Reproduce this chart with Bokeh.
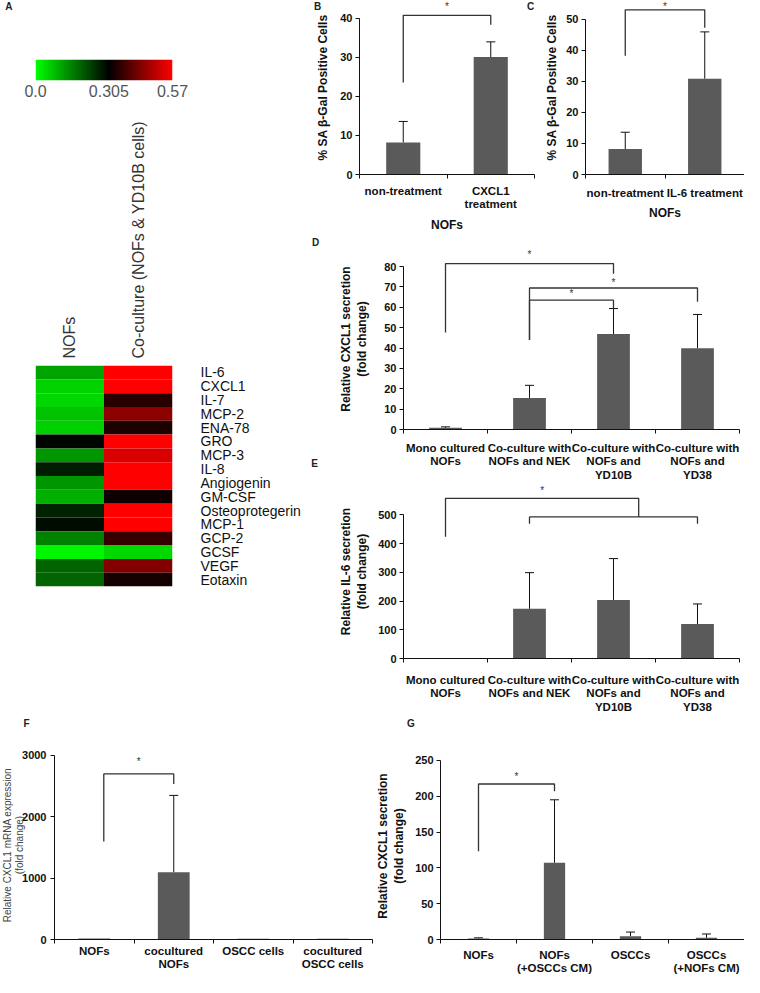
import numpy as np
from math import pi
from bokeh.plotting import figure
from bokeh.layouts import row, column
from bokeh.models import (ColumnDataSource, FixedTicker, LinearColorMapper, Whisker,
                          TeeHead, FactorRange, Range1d)
from bokeh.transform import transform
from bokeh.core.properties import value
from bokeh.embed import file_html
from bokeh.resources import INLINE

# ---------------- data ----------------
# Panel A: cytokine array heat map
cytokines = ["IL-6", "CXCL1", "IL-7", "MCP-2", "ENA-78", "GRO", "MCP-3", "IL-8",
             "Angiogenin", "GM-CSF", "Osteoprotegerin", "MCP-1", "GCP-2", "GCSF",
             "VEGF", "Eotaxin"]
heat_columns = ["NOFs", "Co-culture (NOFs & YD10B cells)"]
nofs_level = [0.110, 0.054, 0.050, 0.072, 0.056, 0.300, 0.126, 0.270,
              0.126, 0.096, 0.263, 0.290, 0.150, 0.012, 0.185, 0.185]
coculture_level = [0.570, 0.570, 0.347, 0.450, 0.336, 0.570, 0.528, 0.570,
                   0.570, 0.320, 0.570, 0.570, 0.362, 0.048, 0.440, 0.326]
scale_ticks = [0.0, 0.305, 0.57]
scale_labels = ["0.0", "0.305", "0.57"]

# Panel B
b_groups = ["non-treatment", "CXCL1\ntreatment"]
b_mean = [8.2, 30.1]
b_sd = [5.4, 3.9]
b_yticks = [0, 10, 20, 30, 40]
b_brackets = [(0, 1, 40.8, 23.6, 38.4)]   # (left group, right group, top, left foot, right foot)
b_stars = [43.0]

# Panel C
c_groups = ["non-treatment", "IL-6 treatment"]
c_mean = [8.2, 30.8]
c_sd = [5.4, 15.1]
c_yticks = [0, 10, 20, 30, 40, 50]
c_brackets = [(0, 1, 53.0, 38.2, 47.2)]
c_stars = [54.2]

# Panels D and E
de_groups = ["Mono cultured\nNOFs", "Co-culture with\nNOFs and NEK",
             "Co-culture with\nNOFs and\nYD10B", "Co-culture with\nNOFs and\nYD38"]
d_mean = [0.8, 15.5, 46.9, 39.9]
d_sd = [0.5, 6.2, 12.5, 16.6]
d_yticks = [0, 10, 20, 30, 40, 50, 60, 70, 80]
d_brackets = [(0, 2, 81.5, 47.6, 76.5), (1, 3, 69.5, 44.0, 62.7), (1, 2, 63.5, 44.0, 59.4)]
d_stars = [86.0, 72.0, 66.6]

e_mean = [0, 173, 204, 120]
e_sd = [0, 126, 144, 70]
e_yticks = [0, 100, 200, 300, 400, 500]
e_brackets = [(0, 2.3, 558, 424, 493), (1, 3, 493, 469, 469)]
e_stars = [586, None]

# Panel F
f_groups = ["NOFs", "cocultured\nNOFs", "OSCC cells", "cocultured\nOSCC cells"]
f_mean = [15, 1095, 12, 12]
f_sd = [0, 1254, 0, 0]
f_yticks = [0, 1000, 2000, 3000]
f_brackets = [(0.12, 1, 2698, 1598, 2534)]
f_stars = [2898]

# Panel G
g_groups = ["NOFs", "NOFs\n(+OSCCs CM)", "OSCCs", "OSCCs\n(+NOFs CM)"]
g_mean = [1.5, 107, 4.5, 2.3]
g_sd = [0.8, 88, 5.9, 5.4]
g_yticks = [0, 50, 100, 150, 200, 250]
g_brackets = [(0, 1, 217, 123, 207)]
g_stars = [227]

# ---------------- style ----------------
FONT = "Liberation Sans"
INK = "#111111"
BAR = "#5a5a5a"


def tick_key(t):
    return int(t) if float(t).is_integer() else t


def base_fig(box, frame, **kw):
    bx0, by0, bx1, by1 = box
    fl, ft, fr, fb = frame
    p = figure(width=bx1 - bx0, height=by1 - by0,
               min_border_left=fl - bx0, min_border_right=bx1 - fr,
               min_border_top=ft - by0, min_border_bottom=by1 - fb,
               toolbar_location=None, output_backend="svg",
               outline_line_color=None, background_fill_color="white",
               border_fill_color="white", **kw)
    p.grid.visible = False
    p._frame = frame
    return p


def free_text(p, text, rx, ry, size="11px", bold=True, color="#222222", angle=0.0):
    """Text placed at a page position (reference pixels), drawn above the frame clip."""
    fl, ft, fr, fb = p._frame
    xr, yr = p.x_range, p.y_range
    x = xr.start + (rx - fl) / (fr - fl) * (xr.end - xr.start)
    y = yr.start + (fb - ry) / (fb - ft) * (yr.end - yr.start)
    p.text(x=[x], y=[y], text=[text], angle=angle, text_align="center",
           text_baseline="middle", text_font=value(FONT), text_font_size=size,
           text_font_style="bold" if bold else "normal", text_color=color,
           text_line_height=1.15, level="overlay")


def bar_panel(box, frame, y_end, groups, mean, sd, yticks, ytitle, bar_width,
              xlab_standoff, ylab_standoff, ytitle_standoff, brackets, stars,
              xtitle=None, xtitle_standoff=4):
    n = len(groups)
    p = base_fig(box, frame, x_range=Range1d(0, n), y_range=Range1d(0, y_end))
    xs = [i + 0.5 for i in range(n)]
    src = ColumnDataSource(dict(x=xs, top=mean))
    p.vbar(x="x", top="top", width=bar_width, source=src, fill_color=BAR, line_color=None)

    ex = [x for x, s in zip(xs, sd) if s > 0]
    elo = [m for m, s in zip(mean, sd) if s > 0]
    ehi = [m + s for m, s in zip(mean, sd) if s > 0]
    esrc = ColumnDataSource(dict(x=ex, lower=elo, upper=ehi))
    p.add_layout(Whisker(base="x", lower="lower", upper="upper", source=esrc,
                         line_color=INK, line_width=1, lower_head=None,
                         upper_head=TeeHead(size=9, line_color=INK, line_width=1)))

    bxs, bys, sxs, sys_ = [], [], [], []
    for (l, r, top, lf, rf), st in zip(brackets, stars):
        bxs.append([l + 0.5, l + 0.5, r + 0.5, r + 0.5])
        bys.append([lf, top, top, rf])
        if st is not None:
            sxs.append((l + r) / 2 + 0.5)
            sys_.append(st)
    p.multi_line(xs=bxs, ys=bys, line_color="#333333", line_width=1.3)
    p.text(x=sxs, y=sys_, text=["*"] * len(sxs), text_align="center",
           text_baseline="middle", text_font=value(FONT), text_font_size="10px",
           text_color="#333333", level="overlay")

    xa = p.xaxis[0]
    xa.ticker = FixedTicker(ticks=xs, minor_ticks=list(range(n + 1)))
    xa.major_label_overrides = {tick_key(x): g for x, g in zip(xs, groups)}
    xa.major_tick_out = 0
    xa.major_tick_in = 0
    xa.major_tick_line_color = None
    xa.minor_tick_out = 4
    xa.minor_tick_in = 0
    xa.minor_tick_line_color = INK
    xa.axis_line_color = INK
    xa.major_label_text_font = FONT
    xa.major_label_text_font_size = "11.5px"
    xa.major_label_text_font_style = "bold"
    xa.major_label_text_color = INK
    xa.major_label_text_line_height = 1.15
    xa.major_label_standoff = xlab_standoff
    if xtitle:
        xa.axis_label = xtitle
        xa.axis_label_text_font = FONT
        xa.axis_label_text_font_size = "12px"
        xa.axis_label_text_font_style = "bold"
        xa.axis_label_text_color = INK
        xa.axis_label_standoff = xtitle_standoff

    ya = p.yaxis[0]
    ya.ticker = FixedTicker(ticks=yticks, minor_ticks=[])
    ya.bounds = (0, yticks[-1])
    ya.major_tick_out = 4
    ya.major_tick_in = 0
    ya.major_tick_line_color = INK
    ya.minor_tick_line_color = None
    ya.axis_line_color = INK
    ya.major_label_text_font = FONT
    ya.major_label_text_font_size = "11px"
    ya.major_label_text_font_style = "bold"
    ya.major_label_text_color = INK
    ya.major_label_standoff = ylab_standoff
    if ytitle:
        ya.axis_label = ytitle
        ya.axis_label_text_font = FONT
        ya.axis_label_text_font_size = "12px"
        ya.axis_label_text_font_style = "bold"
        ya.axis_label_text_color = INK
        ya.axis_label_text_line_height = 1.15
        ya.axis_label_standoff = ytitle_standoff
    return p


# ---------------- panel A ----------------
palette = []
for t in np.linspace(scale_ticks[0], scale_ticks[-1], 256):
    if t <= scale_ticks[1]:
        gch = int(round(255 * (1 - (t - scale_ticks[0]) / (scale_ticks[1] - scale_ticks[0]))))
        palette.append("#00%02x00" % gch)
    else:
        rch = int(round(255 * (t - scale_ticks[1]) / (scale_ticks[2] - scale_ticks[1])))
        palette.append("#%02x0000" % rch)
mapper = LinearColorMapper(palette=palette, low=scale_ticks[0], high=scale_ticks[-1])

pc = base_fig((8, 8, 318, 113), (42, 67, 181, 88),
              x_range=Range1d(scale_ticks[0], scale_ticks[-1]), y_range=Range1d(0, 1))
grad = np.linspace(scale_ticks[0], scale_ticks[-1], 256).reshape(1, -1)
pc.image(image=[grad], x=scale_ticks[0], y=0, dw=scale_ticks[-1] - scale_ticks[0], dh=1,
         color_mapper=mapper)
pc.yaxis.visible = False
cx = pc.xaxis[0]
cx.ticker = FixedTicker(ticks=scale_ticks, minor_ticks=[])
cx.major_label_overrides = {tick_key(t): s for t, s in zip(scale_ticks, scale_labels)}
cx.axis_line_color = None
cx.major_tick_line_color = None
cx.minor_tick_line_color = None
cx.major_tick_out = 0
cx.major_label_standoff = 4
cx.major_label_text_font = FONT
cx.major_label_text_font_size = "16px"
cx.major_label_text_color = "#555555"
free_text(pc, "A", 15, 14, size="10px")

ph = base_fig((8, 113, 318, 724), (43, 373, 180, 594),
              x_range=FactorRange(factors=heat_columns),
              y_range=FactorRange(factors=cytokines[::-1]),
              x_axis_location="above", y_axis_location="right")
hsrc = ColumnDataSource(dict(
    cyto=cytokines + cytokines,
    col=[heat_columns[0]] * len(cytokines) + [heat_columns[1]] * len(cytokines),
    level=nofs_level + coculture_level))
ph.rect(x="col", y="cyto", width=1, height=1, source=hsrc,
        fill_color=transform("level", mapper), line_color=None)
hx = ph.xaxis[0]
hx.major_label_orientation = "vertical"
hx.axis_line_color = None
hx.major_tick_line_color = None
hx.minor_tick_line_color = None
hx.major_tick_out = 0
hx.major_label_standoff = 7
hx.major_label_text_font = FONT
hx.major_label_text_font_size = "16px"
hx.major_label_text_color = "#333333"
hy = ph.yaxis[0]
hy.axis_line_color = None
hy.major_tick_line_color = None
hy.minor_tick_line_color = None
hy.major_tick_out = 0
hy.major_label_standoff = 28
hy.major_label_text_font = FONT
hy.major_label_text_font_size = "14px"
hy.major_label_text_color = INK

panel_a = column(pc, ph, spacing=0)

# ---------------- panels B-G ----------------
pb = bar_panel((318, 8, 548, 243), (367, 8, 542, 192), 44.6, b_groups, b_mean, b_sd,
               b_yticks, "% SA β-Gal Positive Cells", 0.39, 6, 3, 7, b_brackets, b_stars,
               xtitle="NOFs", xtitle_standoff=5)
free_text(pb, "B", 325, 14, size="10px")
free_text(pb, "C", 538, 14, size="10px")

pcc = bar_panel((548, 8, 752, 243), (593, 8, 752, 196), 56.0, c_groups, c_mean, c_sd,
                c_yticks, "% SA β-Gal Positive Cells", 0.42, 8, 3, 4, c_brackets, c_stars,
                xtitle="NOFs", xtitle_standoff=4)

pd_ = bar_panel((318, 243, 752, 492), (411, 256, 747, 438), 88.9, de_groups, d_mean, d_sd,
                d_yticks, "Relative CXCL1 secretion\n(fold change)", 0.39, 8, 3, 12,
                d_brackets, d_stars)
free_text(pd_, "D", 323, 250, size="10px")
free_text(pd_, "E", 322, 472, size="10px")

pe = bar_panel((318, 492, 752, 724), (411, 492, 747, 673), 606, de_groups, e_mean, e_sd,
               e_yticks, "Relative IL-6 secretion\n(fold change)", 0.39, 11, 3, 6,
               e_brackets, e_stars)

pf = bar_panel((8, 724, 381, 985), (62, 760, 380, 952), 3048, f_groups, f_mean, f_sd,
               f_yticks, None, 0.40, 1, 4, 0, f_brackets, f_stars)
free_text(pf, "F", 34, 730, size="10px")
free_text(pf, "Relative CXCL1 mRNA expression\n(fold change)", 21, 855,
          size="10px", bold=False, color="#444444", angle=pi / 2)

pg = bar_panel((381, 724, 752, 985), (443, 760, 752, 952), 261, g_groups, g_mean, g_sd,
               g_yticks, "Relative CXCL1 secretion\n(fold change)", 0.28, 5, 3, 6,
               g_brackets, g_stars)
free_text(pg, "G", 413, 730, size="10px")

right = column(row(pb, pcc, spacing=0), pd_, pe, spacing=0)
top = row(panel_a, right, spacing=0)
bottom = row(pf, pg, spacing=0)
layout = column(top, bottom, spacing=0)

open("out.html", "w").write(file_html(layout, INLINE))
